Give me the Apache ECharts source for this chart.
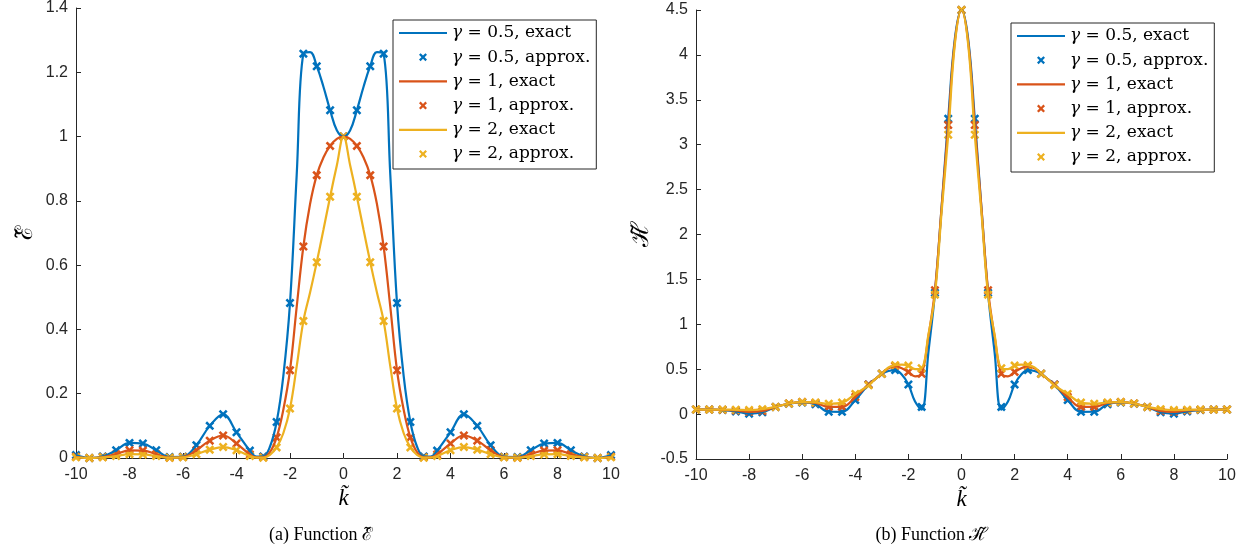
<!DOCTYPE html>
<html><head><meta charset="utf-8">
<script src="https://cdn.jsdelivr.net/npm/echarts@6/dist/echarts.min.js"></script>
<style>html,body{margin:0;padding:0;background:#fff}#c{width:1251px;height:556px}</style>
</head><body><div id="c"></div>
<script>
// ---- data ----
const kApprox = [-10,-9.5,-9,-8.5,-8,-7.5,-7,-6.5,-6,-5.5,-5,-4.5,-4,-3.5,-3,-2.5,-2,-1.5,-1,-0.5,0,0.5,1,1.5,2,2.5,3,3.5,4,4.5,5,5.5,6,6.5,7,7.5,8,8.5,9,9.5,10];
const kFine = [-10,-9.5,-9,-8.5,-8,-7.5,-7,-6.5,-6,-5.5,-5,-4.5,-4,-3.5,-3.25,-3,-2.75,-2.5,-2.25,-2,-1.75,-1.5,-1.25,-1,-0.75,-0.5,-0.25,0,0.25,0.5,0.75,1,1.25,1.5,1.75,2,2.25,2.5,2.75,3,3.25,3.5,4,4.5,5,5.5,6,6.5,7,7.5,8,8.5,9,9.5,10];

// Function E~
const eBlueExact = [0.009,0.0,0.005,0.024,0.047,0.045,0.024,0.003,0.004,0.04,0.10,0.136,0.08,0.023,0.004,0.005,0.035,0.112,0.255,0.482,0.88,1.258,1.263,1.219,1.155,1.082,1.02,1.0,1.02,1.082,1.155,1.219,1.263,1.258,0.88,0.482,0.255,0.112,0.035,0.005,0.004,0.023,0.08,0.136,0.10,0.04,0.004,0.003,0.024,0.045,0.047,0.024,0.005,0.0,0.009];
const eRedExact = [0.004,0.0,0.003,0.012,0.024,0.023,0.012,0.001,0.003,0.024,0.054,0.07,0.045,0.011,0.002,0.002,0.018,0.064,0.15,0.273,0.47,0.658,0.79,0.88,0.935,0.971,0.993,1.0,0.993,0.971,0.935,0.88,0.79,0.658,0.47,0.273,0.15,0.064,0.018,0.002,0.002,0.011,0.045,0.07,0.054,0.024,0.003,0.001,0.012,0.023,0.024,0.012,0.003,0.0,0.004];
const eYelExact = [0.002,0.0,0.002,0.006,0.012,0.011,0.006,0.001,0.002,0.012,0.026,0.034,0.024,0.006,0.001,0.001,0.01,0.033,0.077,0.154,0.285,0.426,0.515,0.609,0.71,0.813,0.91,1.0,0.91,0.813,0.71,0.609,0.515,0.426,0.285,0.154,0.077,0.033,0.01,0.001,0.001,0.006,0.024,0.034,0.026,0.012,0.002,0.001,0.006,0.011,0.012,0.006,0.002,0.0,0.002];
const eBlueApprox = [0.009,0.0,0.005,0.024,0.047,0.045,0.024,0.003,0.004,0.04,0.10,0.136,0.08,0.023,0.005,0.112,0.482,1.258,1.219,1.082,1.0,1.082,1.219,1.258,0.482,0.112,0.005,0.023,0.08,0.136,0.10,0.04,0.004,0.003,0.024,0.045,0.047,0.024,0.005,0.0,0.009];
const eRedApprox = [0.004,0.0,0.003,0.012,0.024,0.023,0.012,0.001,0.003,0.024,0.054,0.07,0.045,0.011,0.002,0.064,0.273,0.658,0.88,0.971,1.0,0.971,0.88,0.658,0.273,0.064,0.002,0.011,0.045,0.07,0.054,0.024,0.003,0.001,0.012,0.023,0.024,0.012,0.003,0.0,0.004];
const eYelApprox = [0.002,0.0,0.002,0.006,0.012,0.011,0.006,0.001,0.002,0.012,0.026,0.034,0.024,0.006,0.001,0.033,0.154,0.426,0.609,0.813,1.0,0.813,0.609,0.426,0.154,0.033,0.001,0.006,0.024,0.034,0.026,0.012,0.002,0.001,0.006,0.011,0.012,0.006,0.002,0.0,0.002];

// Function H~
const hBlueExact = [0.052,0.05,0.045,0.03,0.005,0.02,0.08,0.115,0.13,0.11,0.026,0.025,0.156,0.33,0.39,0.45,0.48,0.49,0.44,0.33,0.14,0.05,0.68,1.35,2.3,3.29,4.18,4.5,4.18,3.29,2.3,1.35,0.68,0.05,0.14,0.33,0.44,0.49,0.48,0.45,0.39,0.33,0.156,0.025,0.026,0.11,0.13,0.115,0.08,0.02,0.005,0.03,0.045,0.05,0.052];
const hRedExact = [0.052,0.05,0.048,0.04,0.025,0.035,0.08,0.118,0.134,0.125,0.08,0.08,0.19,0.33,0.39,0.45,0.51,0.535,0.51,0.47,0.42,0.45,0.86,1.38,2.3,3.22,4.15,4.5,4.15,3.22,2.3,1.38,0.86,0.45,0.42,0.47,0.51,0.535,0.51,0.45,0.39,0.33,0.19,0.08,0.08,0.125,0.134,0.118,0.08,0.035,0.025,0.04,0.048,0.05,0.052];
const hYelExact = [0.052,0.05,0.05,0.048,0.045,0.055,0.08,0.118,0.134,0.13,0.115,0.128,0.225,0.32,0.39,0.45,0.52,0.545,0.55,0.54,0.5,0.51,0.88,1.33,2.25,3.11,4.12,4.5,4.12,3.11,2.25,1.33,0.88,0.51,0.5,0.54,0.55,0.545,0.52,0.45,0.39,0.32,0.225,0.128,0.115,0.13,0.134,0.118,0.08,0.055,0.045,0.048,0.05,0.05,0.052];
const hBlueApprox = [0.052,0.05,0.045,0.03,0.005,0.02,0.08,0.115,0.13,0.11,0.026,0.025,0.156,0.33,0.45,0.49,0.33,0.08,1.35,3.29,4.5,3.29,1.35,0.08,0.33,0.49,0.45,0.33,0.156,0.025,0.026,0.11,0.13,0.115,0.08,0.02,0.005,0.03,0.045,0.05,0.052];
const hRedApprox = [0.052,0.05,0.048,0.04,0.025,0.035,0.08,0.118,0.134,0.125,0.08,0.08,0.19,0.33,0.45,0.535,0.47,0.45,1.38,3.22,4.5,3.22,1.38,0.45,0.47,0.535,0.45,0.33,0.19,0.08,0.08,0.125,0.134,0.118,0.08,0.035,0.025,0.04,0.048,0.05,0.052];
const hYelApprox = [0.052,0.05,0.05,0.048,0.045,0.055,0.08,0.118,0.134,0.13,0.115,0.128,0.225,0.32,0.45,0.545,0.54,0.51,1.33,3.11,4.5,3.11,1.33,0.51,0.54,0.545,0.45,0.32,0.225,0.128,0.115,0.13,0.134,0.118,0.08,0.055,0.045,0.048,0.05,0.05,0.052];

const seriesNames = ['γ = 0.5, exact','γ = 0.5, approx.','γ = 1, exact','γ = 1, approx.','γ = 2, exact','γ = 2, approx.'];
const colors = ['#0072BD','#D95319','#EDB120'];

// ---- build ----
const zip = (xs, ys) => xs.map((x, i) => [x, ys[i]]);
const xSym = 'path://M0,2L2,0L5,3L8,0L10,2L7,5L10,8L8,10L5,7L2,10L0,8L3,5Z';
const lineIcon = 'path://M0,0L48,0L48,2.2L0,2.2Z';
const axisCol = '#262626';

function makeSeries(g, exacts, approxs) {
  const out = [];
  for (let i = 0; i < 3; i++) {
    out.push({
      type: 'line', name: seriesNames[2*i], xAxisIndex: g, yAxisIndex: g,
      data: zip(kFine, exacts[i]), symbol: 'none', showSymbol: false, smooth: 0.4,
      lineStyle: { color: colors[i], width: 2.2 }, itemStyle: { color: colors[i] }
    });
    out.push({
      type: 'scatter', name: seriesNames[2*i+1], xAxisIndex: g, yAxisIndex: g,
      data: zip(kApprox, approxs[i]), symbol: xSym, symbolSize: 9,
      itemStyle: { color: colors[i], opacity: 1 }
    });
  }
  return out;
}

function xAx(g) {
  return {
    gridIndex: g, type: 'value', min: -10, max: 10, interval: 2,
    axisLine: { show: true, onZero: false, lineStyle: { color: axisCol, width: 1 } },
    axisTick: { show: true, inside: true, length: 5, lineStyle: { color: axisCol } },
    axisLabel: { margin: 9, color: axisCol, fontSize: 16, fontFamily: 'Liberation Sans' },
    splitLine: { show: false },
    name: 'k\u0303', nameLocation: 'middle', nameGap: 29,
    nameTextStyle: { fontFamily: 'Liberation Serif', fontStyle: 'italic', fontSize: 23, color: '#000' }
  };
}
function yAx(g, min, max, interval, name, gap) {
  return {
    gridIndex: g, type: 'value', min: min, max: max, interval: interval,
    axisLine: { show: true, onZero: false, lineStyle: { color: axisCol, width: 1 } },
    axisTick: { show: true, inside: true, length: 5, lineStyle: { color: axisCol } },
    axisLabel: { margin: 8, color: axisCol, fontSize: 16, fontFamily: 'Liberation Sans' },
    splitLine: { show: false },
    name: name, nameLocation: 'middle', nameGap: gap, nameRotate: 90,
    nameTextStyle: { fontFamily: 'DejaVu Serif', fontSize: 24, color: '#000' }
  };
}
function legend(left, top) {
  return {
    show: true, orient: 'vertical', left: left, top: top,
    data: seriesNames.map((n, i) => i % 2 === 0 ? { name: n, icon: lineIcon } : { name: n }),
    itemWidth: 48, itemHeight: 8, itemGap: 4.2, padding: [3, 6, 5, 6],
    borderColor: axisCol, borderWidth: 1, backgroundColor: '#fff',
    selectedMode: false,
    formatter: n => n.replace('γ', '{g|γ}'),
    textStyle: {
      fontFamily: 'DejaVu Serif', fontSize: 17, lineHeight: 20, color: '#000',
      rich: { g: { fontFamily: 'DejaVu Serif', fontStyle: 'italic', fontSize: 17, lineHeight: 20, color: '#000' } }
    }
  };
}

const chart = echarts.init(document.getElementById('c'), null, { renderer: 'canvas' });
chart.setOption({
  animation: false,
  backgroundColor: '#fff',
  grid: [
    { left: 76, right: 640, top: 6, bottom: 98 },
    { left: 696, right: 24, top: 10, bottom: 97 }
  ],
  xAxis: [xAx(0), xAx(1)],
  yAxis: [yAx(0, 0, 1.4, 0.2, '\u2130\u0303', 38), yAx(1, -0.5, 4.5, 0.5, '\u210B\u0303', 42)],
  legend: [legend(393, 20), legend(1011, 23)],
  series: [].concat(
    makeSeries(0, [eBlueExact, eRedExact, eYelExact], [eBlueApprox, eRedApprox, eYelApprox]),
    makeSeries(1, [hBlueExact, hRedExact, hYelExact], [hBlueApprox, hRedApprox, hYelApprox])
  ),
  graphic: [
    { type: 'text', x: 321, y: 535, style: { text: '(a) Function \u2130\u0303', fontFamily: 'Liberation Serif', fontSize: 18, fill: '#000', align: 'center', verticalAlign: 'middle' } },
    { type: 'text', x: 932, y: 535, style: { text: '(b) Function \u210B\u0303', fontFamily: 'Liberation Serif', fontSize: 18, fill: '#000', align: 'center', verticalAlign: 'middle' } }
  ]
});
</script>
</body></html>
